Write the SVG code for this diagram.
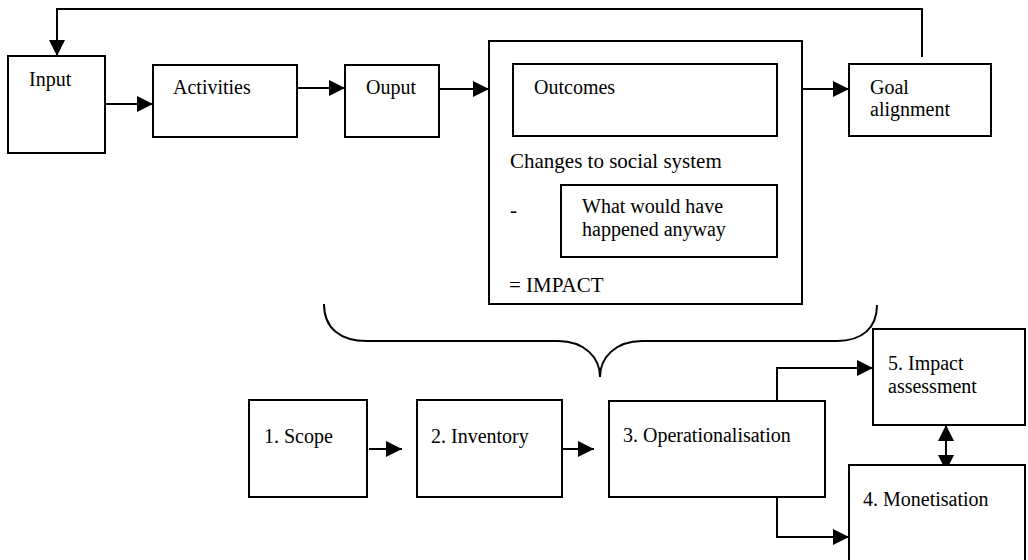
<svg xmlns="http://www.w3.org/2000/svg" width="1028" height="560" viewBox="0 0 1028 560">
<style>
.box{fill:#fff;stroke:#000;stroke-width:2}
.t{font-family:"Liberation Serif","Times New Roman",serif;font-size:20px;fill:#000}
.t21{font-size:21px}
.c{fill:none;stroke:#000;stroke-width:2}
</style>
<defs>
<marker id="ah" markerUnits="userSpaceOnUse" markerWidth="16" markerHeight="16" viewBox="0 0 15 15" refX="15" refY="7.5" orient="auto-start-reverse">
<path d="M0,0 L15,7.5 L0,15 z" fill="#000"/>
</marker>
</defs>
<rect width="1028" height="560" fill="#fff"/>
<g id="connectors">
<path class="c" d="M922,57 V9 H57 V56" marker-end="url(#ah)"/>
<path class="c" d="M105,104 H153" marker-end="url(#ah)"/>
<path class="c" d="M297,88 H345" marker-end="url(#ah)"/>
<path class="c" d="M439,89 H489" marker-end="url(#ah)"/>
<path class="c" d="M802,89 H849" marker-end="url(#ah)"/>
<path class="c" d="M369,449 H402" marker-end="url(#ah)"/>
<path class="c" d="M562,449 H594" marker-end="url(#ah)"/>
<path class="c" d="M777,400 V368 H873" marker-end="url(#ah)"/>
<path class="c" d="M777,497 V537 H849" marker-end="url(#ah)"/>
<path class="c" d="M946,425 V471" marker-start="url(#ah)" marker-end="url(#ah)"/>
<path class="c" d="M324,304 C324,328 340,341 367,341 L558,341 C585,341 600,358 600,377 C600,358 615,341 642,341 L837,341 C862,341 877,328 877,305"/>
</g>
<g id="input"><rect class="box" x="8" y="56" width="97" height="97"/><text class="t" x="29" y="86">Input</text></g>
<g id="activities"><rect class="box" x="153" y="65" width="144" height="72"/><text class="t" x="173" y="94">Activities</text></g>
<g id="ouput"><rect class="box" x="345" y="65" width="94" height="72"/><text class="t" x="366" y="94">Ouput</text></g>
<g id="impact-box">
<rect class="box" x="489" y="41" width="313" height="263"/>
<text class="t t21" x="510" y="168">Changes to social system</text>
<text class="t t21" x="510" y="217">-</text>
<text class="t t21" x="509" y="292">= IMPACT</text>
</g>
<g id="outcomes"><rect class="box" x="513" y="64" width="264" height="72"/><text class="t" x="534" y="94">Outcomes</text></g>
<g id="anyway"><rect class="box" x="561" y="185" width="216" height="72"/><text class="t" x="582" y="213">What would have</text><text class="t" x="582" y="236">happened anyway</text></g>
<g id="goal"><rect class="box" x="849" y="64" width="142" height="72"/><text class="t" x="870" y="94">Goal</text><text class="t" x="870" y="116">alignment</text></g>
<g id="scope"><rect class="box" x="249" y="400" width="118" height="97"/><text class="t" x="264" y="443">1. Scope</text></g>
<g id="inventory"><rect class="box" x="417" y="400" width="145" height="97"/><text class="t" x="431" y="443">2. Inventory</text></g>
<g id="operationalisation"><rect class="box" x="609" y="401" width="216" height="96"/><text class="t" x="623" y="442">3. Operationalisation</text></g>
<g id="impact-assessment"><rect class="box" x="873" y="329" width="152" height="96"/><text class="t" x="888" y="370">5. Impact</text><text class="t" x="888" y="393">assessment</text></g>
<g id="monetisation"><rect class="box" x="849" y="465" width="176" height="98"/><text class="t" x="863" y="506">4. Monetisation</text></g>
</svg>
